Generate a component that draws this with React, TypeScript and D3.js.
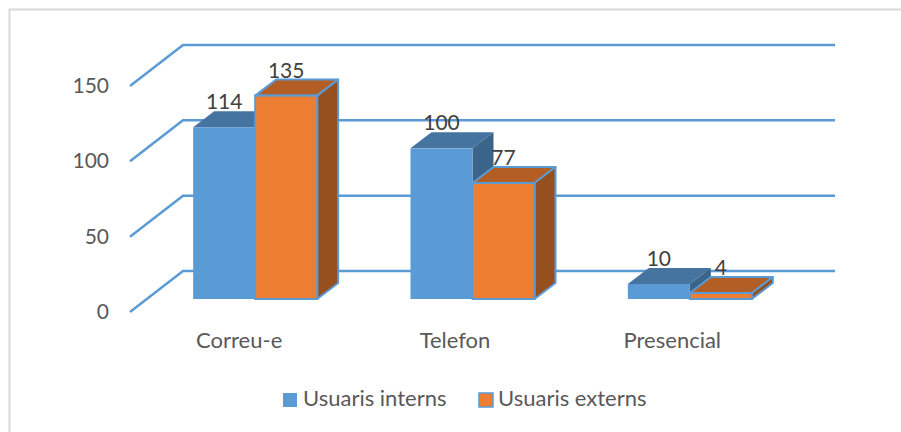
import React from "react";
import * as d3 from "d3";

const categories = ["Correu-e", "Telefon", "Presencial"];
const seriesNames = ["Usuaris interns", "Usuaris externs"];
const interns = [114, 100, 10];
const externs = [135, 77, 4];
const yTicks = [0, 50, 100, 150];

const W = 901, H = 432;
const FONT = "Lato, 'Noto Sans', sans-serif";
const LINE = "#5B9BD5";
const FRONT = ["#5B9BD5", "#ED7D31"];
const TOP = ["#44749F", "#B35E24"];
const SIDE = ["#3A6489", "#964F1E"];

const y = d3.scaleLinear().domain([0, 150]).range([312, 86]);
const x0 = d3.scaleBand<string>().domain(categories).range([146.5, 798.5]);
const barW = 62;
const wallDx = 53, wallDy = -41;
const baseDy = -13;
const depthDx = 21, depthDy = -16;

function Bar({ x, v, s }: { x: number; v: number; s: number }) {
  const yT = y(v) + baseDy;
  const yB = y(0) + baseDy;
  const xR = x + barW;
  const line = d3.line();
  const pts = (a: [number, number][]) => line(a)! + "Z";
  const stroke = s === 1 ? LINE : "none";
  const sw = s === 1 ? 2 : 0;
  return (
    <g>
      <path d={pts([[x, yT], [x + depthDx, yT + depthDy], [xR + depthDx, yT + depthDy], [xR, yT]])} fill={TOP[s]} stroke={stroke} strokeWidth={sw} strokeLinejoin="round" />
      <path d={pts([[xR, yT], [xR + depthDx, yT + depthDy], [xR + depthDx, yB + depthDy], [xR, yB]])} fill={SIDE[s]} stroke={stroke} strokeWidth={sw} strokeLinejoin="round" />
      <rect x={x} y={yT} width={barW} height={yB - yT} fill={FRONT[s]} stroke={stroke} strokeWidth={sw} />
    </g>
  );
}

export default function App() {
  const centre = (c: string) => x0(c)! + x0.bandwidth() / 2;
  return (
    <svg width={W} height={H} viewBox={`0 0 ${W} ${H}`} style={{ position: "fixed", left: 0, top: 0, background: "#fff" }} fontFamily={FONT}>
      <path d="M9.5 432V9.5H901" fill="none" stroke="#D9D9D9" strokeWidth={2} />
      {yTicks.map((t) => {
        const p = d3.line()([[130, y(t)], [130 + wallDx, y(t) + wallDy], [835, y(t) + wallDy]])!;
        return <path key={t} d={p} fill="none" stroke={LINE} strokeWidth={2.5} />;
      })}
      {yTicks.map((t) => (
        <text key={t} x={109} y={y(t) + 7} textAnchor="end" fontSize={21} fill="#595959">{t}</text>
      ))}
      {categories.map((c, i) => {
        const cx = centre(c);
        return (
          <g key={c}>
            <Bar x={cx - barW} v={interns[i]} s={0} />
            <Bar x={cx} v={externs[i]} s={1} />
          </g>
        );
      })}
      {categories.map((c, i) => {
        const cx = centre(c);
        return (
          <g key={c} fontSize={21} fill="#404040" textAnchor="middle">
            <text x={cx - barW / 2} y={y(interns[i]) + baseDy - 18}>{interns[i]}</text>
            <text x={cx + barW / 2} y={y(externs[i]) + baseDy - 18}>{externs[i]}</text>
            <text x={cx - 16 - (i > 0 ? 1.5 : 0)} y={348} fill="#595959" fontSize={22}>{c}</text>
          </g>
        );
      })}
      <g fontSize={22} fill="#595959">
        <rect x={283} y={393} width={14} height={14} fill={FRONT[0]} />
        <text x={303} y={406}>{seriesNames[0]}</text>
        <rect x={479} y={393} width={14} height={14} fill={FRONT[1]} stroke={LINE} strokeWidth={1.5} />
        <text x={498} y={406}>{seriesNames[1]}</text>
      </g>
    </svg>
  );
}
